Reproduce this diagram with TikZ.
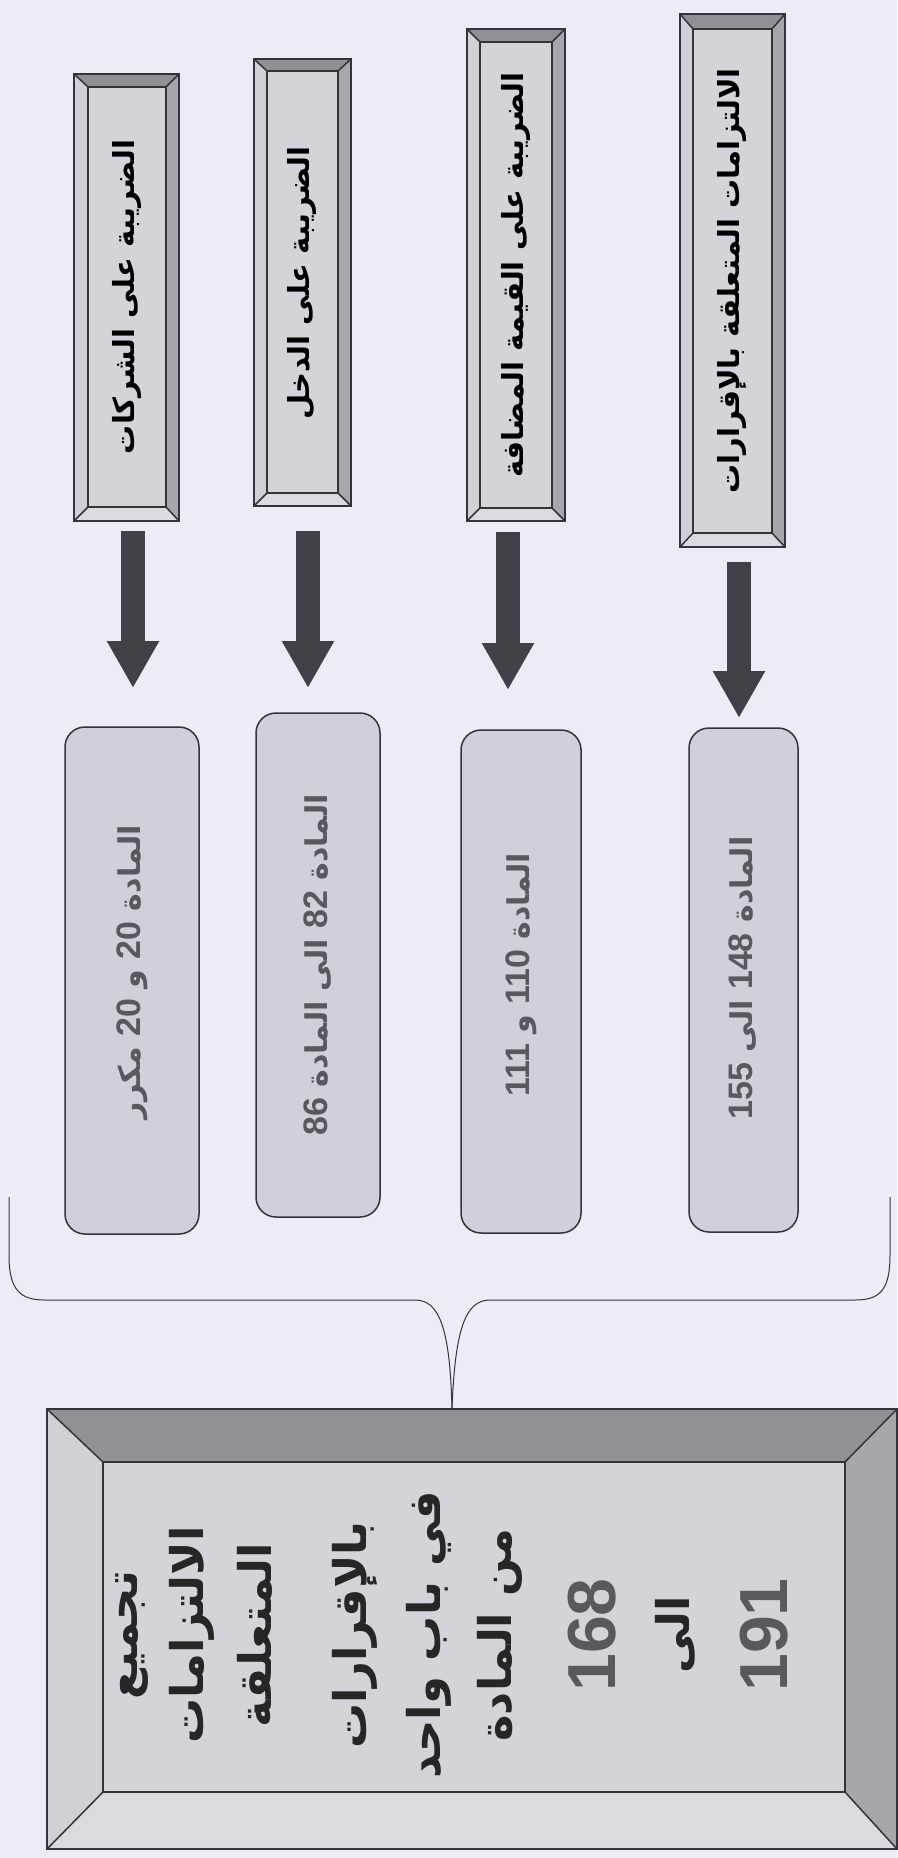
\documentclass[tikz,border=0pt]{standalone}
\usepackage{fontspec}
\usetikzlibrary{arrows.meta}
\TeXXeTstate=1
\newfontfamily\arabicfont[Script=Arabic]{DejaVu Sans}
\newfontfamily\numfont{Liberation Sans}
\definecolor{bgc}{HTML}{ECECF7}
\definecolor{facec}{HTML}{D3D3DA}
\definecolor{bvtop}{HTML}{909096}
\definecolor{bvleft}{HTML}{D0D0D6}
\definecolor{bvright}{HTML}{A6A6AD}
\definecolor{bvbot}{HTML}{DADAE0}
\definecolor{linec}{HTML}{333338}
\definecolor{roundc}{HTML}{D0D0D8}
\definecolor{arrowc}{HTML}{404046}
\definecolor{greytext}{HTML}{58585E}
\newcommand\bevbox[8]{%
  \fill[bvtop] (#1,#2) -- (#3,#2) -- ({#3-#7},{#2+#6}) -- ({#1+#5},{#2+#6}) -- cycle;
  \fill[bvbot] (#1,#4) -- (#3,#4) -- ({#3-#7},{#4-#8}) -- ({#1+#5},{#4-#8}) -- cycle;
  \fill[bvleft] (#1,#2) -- ({#1+#5},{#2+#6}) -- ({#1+#5},{#4-#8}) -- (#1,#4) -- cycle;
  \fill[bvright] (#3,#2) -- ({#3-#7},{#2+#6}) -- ({#3-#7},{#4-#8}) -- (#3,#4) -- cycle;
  \fill[facec] ({#1+#5},{#2+#6}) rectangle ({#3-#7},{#4-#8});
  \draw[bevline] (#1,#2) rectangle (#3,#4);
  \draw[bevline] ({#1+#5},{#2+#6}) rectangle ({#3-#7},{#4-#8});
  \draw[bevline] (#1,#2) -- ({#1+#5},{#2+#6});
  \draw[bevline] (#3,#2) -- ({#3-#7},{#2+#6});
  \draw[bevline] (#1,#4) -- ({#1+#5},{#4-#8});
  \draw[bevline] (#3,#4) -- ({#3-#7},{#4-#8});
}
\tikzset{
  bevline/.style={draw=linec, line width=1.5pt, line join=miter},
  toptext/.style={rotate=90, inner sep=0pt, text=black,
    font=\arabicfont\bfseries\fontsize{29}{36}\selectfont},
  roundbox/.style={draw=linec, line width=1.5pt, fill=roundc, rounded corners=20pt},
  roundtext/.style={rotate=90, inner sep=0pt, text=greytext,
    font=\arabicfont\bfseries\fontsize{30}{34}\selectfont},
  bigtext/.style={rotate=90, inner sep=0pt, text=black!85,
    font=\arabicfont\bfseries\fontsize{45}{50}\selectfont},
  bignum/.style={rotate=90, inner sep=0pt, text=greytext,
    font=\numfont\bfseries\fontsize{68}{72}\selectfont},
  blockarrow/.style={draw=arrowc, line width=24pt,
    -{Triangle[width=49pt,length=47pt]}},
  bracel/.style={draw=linec, line width=1pt},
}
\newcommand\nm[1]{{\numfont\bfseries\fontsize{34}{36}\selectfont #1}}
\begin{document}
\begin{tikzpicture}[x=1pt,y=-1pt]
\fill[bgc] (0,0) rectangle (897,1858);
\useasboundingbox (0,0) rectangle (897,1858);
% top bevelled boxes
\bevbox{74}{74}{179}{521}{14}{13}{13}{14}
\bevbox{254}{59}{351}{506}{13}{12}{13}{13}
\bevbox{467}{29}{565}{521}{13}{13}{13}{13}
\bevbox{680}{14}{785}{547}{13}{15}{13}{14}
\node[toptext] (t1) at (127,297) {\beginR الضريبة على الشركات\endR};
\node[toptext] (t2) at (302,283) {\beginR الضريبة على الدخل\endR};
\node[toptext] (t3) at (516,275) {\beginR الضريبة على القيمة المضافة\endR};
\node[toptext] (t4) at (732,281) {\beginR الالتزامات المتعلقة بالإقرارات\endR};
% arrows
\coordinate (a1s) at (133,531); \coordinate (a1e) at (133,688);
\coordinate (a2s) at (308,531); \coordinate (a2e) at (308,688);
\coordinate (a3s) at (508,532); \coordinate (a3e) at (508,690);
\coordinate (a4s) at (739,562); \coordinate (a4e) at (739,718);
\draw[blockarrow] (a1s) -- (a1e);
\draw[blockarrow] (a2s) -- (a2e);
\draw[blockarrow] (a3s) -- (a3e);
\draw[blockarrow] (a4s) -- (a4e);
% rounded boxes
\draw[roundbox] (65,727) rectangle (199,1234);
\draw[roundbox] (256,713) rectangle (380,1217);
\draw[roundbox] (461,730) rectangle (581,1233);
\draw[roundbox] (689,728) rectangle (798,1232);
\node[roundtext] (r1) at (132,972) {\beginR المادة \nm{20} و \nm{20} مكرر\endR};
\node[roundtext] (r2) at (318,965) {\beginR المادة \nm{82} الى المادة \nm{86}\endR};
\node[roundtext] (r3) at (521,975) {\beginR المادة \nm{110} و \nm{111}\endR};
\node[roundtext] (r4) at (743,978) {\beginR المادة \nm{148} الى \nm{155}\endR};
% brace
\coordinate (bl) at (9,1197);
\coordinate (br) at (890,1197);
\coordinate (bt) at (452,1409);
\draw[bracel] (bl) -- (9,1255) .. controls (9,1290) and (20,1300) .. (45,1300)
  -- (415,1300) .. controls (440,1300) and (450,1330) .. (bt);
\draw[bracel] (bt) .. controls (455,1330) and (465,1300) .. (490,1300)
  -- (855,1300) .. controls (880,1300) and (890,1290) .. (890,1255) -- (br);
% big box
\bevbox{47}{1409}{897}{1849}{56}{53}{52}{57}
\node[bigtext] (g1) at (132,1635) {\beginR تجميع\endR};
\node[bigtext] (g2) at (192,1635) {\beginR الالتزامات\endR};
\node[bigtext] (g3) at (255,1635) {\beginR المتعلقة\endR};
\node[bigtext] (g4) at (355,1635) {\beginR بالإقرارات\endR};
\node[bigtext] (g5) at (429,1635) {\beginR في باب واحد\endR};
\node[bigtext] (g6) at (500,1635) {\beginR من المادة\endR};
\node[bignum] (g7) at (592,1635) {168};
\node[bigtext] (g8) at (675,1635) {\beginR الى\endR};
\node[bignum] (g9) at (764,1635) {191};
\end{tikzpicture}
\end{document}
